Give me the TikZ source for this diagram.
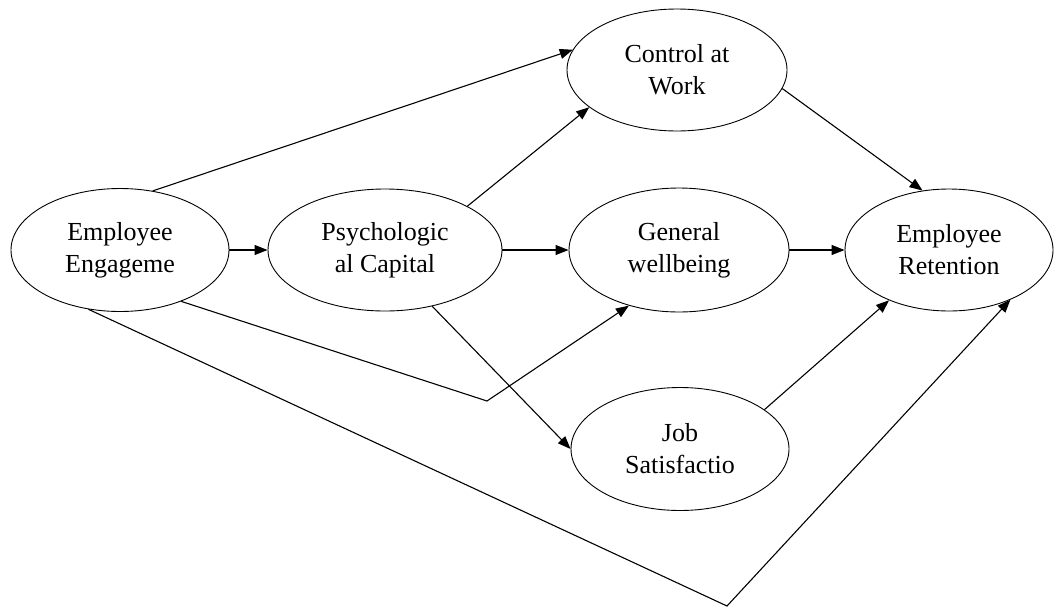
\documentclass[tikz,border=0pt]{standalone}
\usepackage{fontspec}
\setmainfont{Liberation Serif}
\usetikzlibrary{shapes.geometric,arrows.meta}

\begin{document}
\begin{tikzpicture}[x=1pt,y=-1pt,
    construct/.style={draw,ellipse,line width=0.9pt,inner sep=0pt,align=center,
        font=\fontsize{26}{32}\selectfont},
    link/.style={-{Triangle[length=13pt,width=10pt]},line width=1.1pt}]
    \useasboundingbox (0,0) rectangle (1054,608);

    \node [construct,minimum width=218pt,minimum height=123pt] (engage) at (120,250)%
        {Employee\\Engageme};
    \node [construct,minimum width=234pt,minimum height=122pt] (capital) at (385,250)%
        {Psychologic\\al Capital};
    \node [construct,minimum width=220pt,minimum height=122pt] (control) at (677,70)%
        {Control at\\Work};
    \node [construct,minimum width=220pt,minimum height=124pt] (wellbeing) at (679,250)%
        {General\\wellbeing};
    \node [construct,minimum width=218pt,minimum height=123pt] (jobsat) at (680,449)%
        {Job\\Satisfactio};
    \node [construct,minimum width=208pt,minimum height=122pt] (retention) at (949,250)%
        {Employee\\Retention};

    \coordinate (bendwell) at (487,401);
    \coordinate (bendret) at (727,606);

    \draw [link] (engage.61) -- (control.169);
    \draw [link] (engage.east) -- (capital.west);
    \draw [link] (capital.28) -- (control.203);
    \draw [link] (capital.east) -- (wellbeing.west);
    \draw [link] (capital.310) -- (jobsat.west);
    \draw [link] (engage.320) -- (bendwell) -- (wellbeing.228);
    \draw [link] (engage.242) -- (bendret) -- (retention.321);

    \draw [link] (control.350) -- (retention.114);
    \draw [link] (wellbeing.east) -- (retention.west);
    \draw [link] (jobsat.25) -- (retention.220);
\end{tikzpicture}
\end{document}
